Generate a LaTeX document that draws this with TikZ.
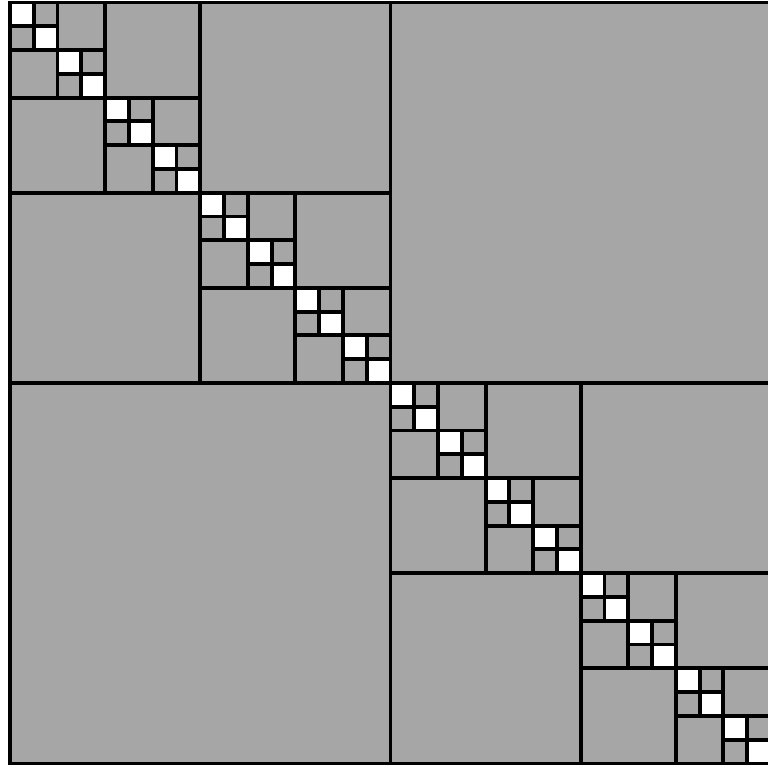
\documentclass[tikz,border=0pt]{standalone}
\usepackage{xcolor}
\definecolor{blockgray}{HTML}{A6A6A6}
\usepackage{tikz}
\usetikzlibrary{calc}

\begin{document}
\begin{tikzpicture}
  \useasboundingbox (0,0) rectangle (7.68,7.67);

  \begin{scope}[shift={(0.10,7.645)}, x=0.2378cm, y=-0.2378cm]
    % Low-rank blocks
    \fill[blockgray] (0,0) rectangle (32,32);

    % Dense diagonal leaves
    \foreach \k in {0,...,31} {
      \fill[white] (\k,\k) rectangle ++(1,1);
    }

    % Splits of each diagonal block
    \foreach \s in {32,16,8,4,2} {
      \pgfmathtruncatemacro{\n}{32/\s-1}
      \pgfmathsetmacro{\h}{\s/2}
      \foreach \k in {0,...,\n} {
        \draw[line width=1.1pt] ({\k*\s+\h},{\k*\s}) -- ++(0,\s);
        \draw[line width=1.1pt] ({\k*\s},{\k*\s+\h}) -- ++(\s,0);
      }
    }

    % Border
    \draw[line width=1.1pt] (0,0) rectangle (32,32);
  \end{scope}
\end{tikzpicture}
\end{document}
